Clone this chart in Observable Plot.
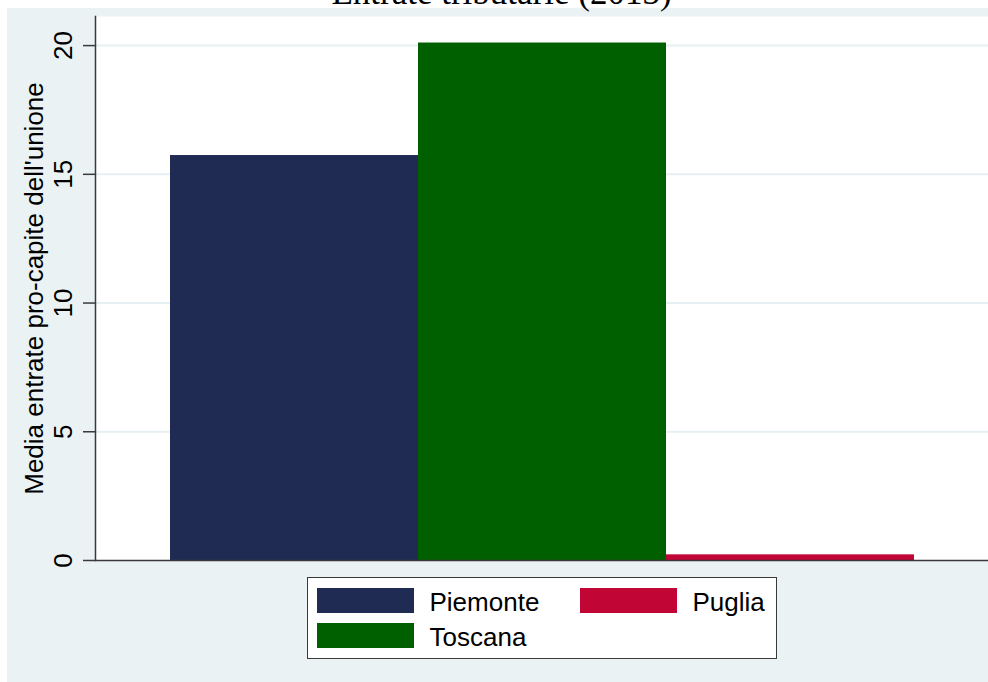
<!DOCTYPE html>
<html>
<head>
<meta charset="utf-8">
<script src="https://cdn.jsdelivr.net/npm/d3@7"></script>
<script src="https://cdn.jsdelivr.net/npm/@observablehq/plot@0.6"></script>
<style>
html, body { margin: 0; padding: 0; background: #ffffff; }
#wrap { position: relative; width: 988px; height: 682px; overflow: hidden; font-family: "Liberation Sans", Arial, sans-serif; }
#bg { position: absolute; left: 7px; top: 8px; right: 0; bottom: 0; background: #eaf2f3; }
#chart { position: absolute; left: 0; top: 0; }
#legend { position: absolute; left: 307px; top: 577px; width: 470px; height: 82px; box-sizing: border-box;
  border: 1.5px solid #3a3a3a; background: #ffffff; }
.sw { position: absolute; width: 97px; height: 25px; }
.lt { position: absolute; font-size: 26px; line-height: 26px; color: #000; white-space: nowrap; }
</style>
</head>
<body>
<div id="wrap">
  <div id="bg"></div>
  <div id="chart"></div>
  <div id="legend"></div>
</div>
<script>
const title = "Entrate tributarie (2013)";
const yLabel = "Media entrate pro-capite dell'unione";
const regions = ["Piemonte", "Toscana", "Puglia"];
const values = [15.73, 20.1, 0.22];
const colors = ["#1f2b53", "#006000", "#c10534"];
const yTicks = [0, 5, 10, 15, 20];
const legendOrder = ["Piemonte", "Puglia", "Toscana"];

const data = regions.map((r, i) => ({region: r, value: values[i]}));

const chart = Plot.plot({
  width: 988,
  height: 682,
  marginLeft: 95,
  marginRight: 0,
  marginTop: 16,
  marginBottom: 122,
  style: {background: "transparent", fontFamily: "Liberation Sans, Arial, sans-serif", overflow: "visible"},
  x: {domain: regions, paddingInner: 0, paddingOuter: 0.298, axis: null},
  y: {domain: [0, 21.13], axis: null},
  color: {domain: regions, range: colors},
  marks: [
    Plot.frame({fill: "#ffffff", stroke: null}),
    Plot.gridY(yTicks.filter(d => d > 0), {stroke: "#e6eff1", strokeOpacity: 1, strokeWidth: 2}),
    Plot.barY(data, {x: "region", y: "value", fill: "region"}),
    Plot.ruleY([0], {stroke: "#3a3a3a", strokeWidth: 1.5}),
    Plot.frame({anchor: "left", stroke: "#3a3a3a", strokeWidth: 1.5}),
    Plot.axisY(yTicks, {tickSize: 12, tickFormat: () => "", label: null, stroke: "#3a3a3a", strokeWidth: 1.5}),
    Plot.text(yTicks, {y: d => d, text: d => String(d), frameAnchor: "left", dx: -32, rotate: -90,
      fontSize: 26, textAnchor: "middle", lineAnchor: "middle", fill: "#000"}),
    Plot.text([yLabel], {text: d => d, frameAnchor: "left", dx: -61, rotate: -90,
      fontSize: 26, textAnchor: "middle", lineAnchor: "middle", fill: "#000"}),
    Plot.text([title], {text: d => d, frameAnchor: "top-left", dx: 406, dy: -12.5,
      fontSize: 35, fontFamily: "Liberation Serif, Times New Roman, serif", textAnchor: "middle", lineAnchor: "bottom", fill: "#000"})
  ]
});
document.getElementById("chart").appendChild(chart);

// Legend (HTML), colours from the same arrays
const legend = document.getElementById("legend");
const slots = [
  {sw: [8.5, 9.5], tx: [121.5, 10.6]},
  {sw: [271.5, 9.5], tx: [384.5, 10.6]},
  {sw: [8.5, 44.5], tx: [121.5, 45.6]}
];
legendOrder.forEach((name, i) => {
  const s = slots[i];
  const sw = document.createElement("div");
  sw.className = "sw";
  sw.style.left = s.sw[0] + "px";
  sw.style.top = s.sw[1] + "px";
  sw.style.background = colors[regions.indexOf(name)];
  legend.appendChild(sw);
  const t = document.createElement("div");
  t.className = "lt";
  t.style.left = s.tx[0] + "px";
  t.style.top = s.tx[1] + "px";
  t.textContent = name;
  legend.appendChild(t);
});
</script>
</body>
</html>
